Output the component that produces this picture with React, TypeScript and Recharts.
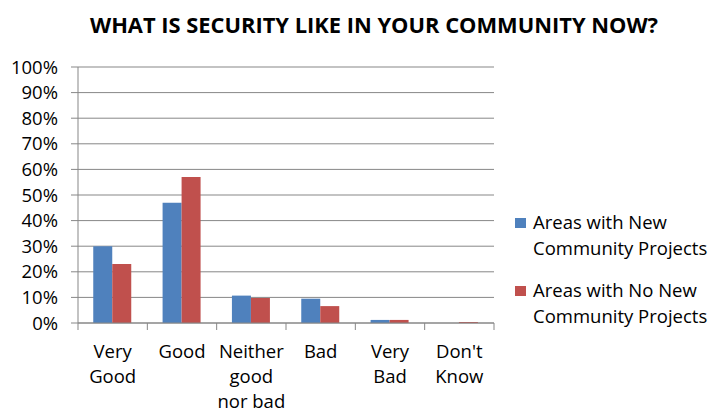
import React from "react";
import { BarChart, Bar, XAxis, YAxis, CartesianGrid, Customized } from "recharts";

const categories = ["Very Good", "Good", "Neither good nor bad", "Bad", "Very Bad", "Don't Know"];
const tickLines: string[][] = [["Very", "Good"], ["Good"], ["Neither", "good", "nor bad"], ["Bad"], ["Very", "Bad"], ["Don't", "Know"]];
const withNew = [30, 47, 10.7, 9.5, 1.2, 0];
const withoutNew = [23, 57, 9.8, 6.6, 1.2, 0.4];
const yTicks = [0, 10, 20, 30, 40, 50, 60, 70, 80, 90, 100];
const seriesNames = ["Areas with New Community Projects", "Areas with No New Community Projects"];
const legendLines = [["Areas with New", "Community Projects"], ["Areas with No New", "Community Projects"]];
const title = "WHAT IS SECURITY LIKE IN YOUR COMMUNITY NOW?";

const COLORS = ["#4F81BD", "#C0504D"];
const FONT = "'Open Sans', sans-serif";
const GRID = "#878787";
const FS = 18.5;

const data = categories.map((c, i) => ({ name: c, a: withNew[i], b: withoutNew[i] }));

const XTick = (props: any) => {
  const { x, y: ty, payload, index } = props;
  const y = ty - 8;
  const half = payload && payload.offset ? payload.offset : 34.7;
  const lines = tickLines[index] || [payload.value];
  const last = index === categories.length - 1;
  return (
    <g>
      <line x1={x - half} x2={x - half} y1={y} y2={y + 7} stroke={GRID} strokeWidth={1} />
      {last && <line x1={x + half} x2={x + half} y1={y} y2={y + 7} stroke={GRID} strokeWidth={1} />}
      {lines.map((l, k) => (
        <text key={k} x={x} y={y + 35 + k * 25} textAnchor="middle" fontFamily={FONT} fontSize={FS} fill="#000">
          {l}
        </text>
      ))}
    </g>
  );
};

const LegendBox = () => (
  <div style={{ position: "absolute", left: 515, top: 209, fontFamily: FONT, fontSize: FS, color: "#000" }}>
    {legendLines.map((ls, i) => (
      <div key={seriesNames[i]} style={{ position: "relative", paddingLeft: 18, lineHeight: "26px", marginBottom: i === 0 ? 16 : 0 }}>
        <div style={{ position: "absolute", left: 0, top: 9, width: 11, height: 10, background: COLORS[i] }} />
        {ls.map((l, k) => (
          <div key={k} style={{ whiteSpace: "nowrap" }}>{l}</div>
        ))}
      </div>
    ))}
  </div>
);

const Title = () => (
  <text x={374} y={33} textAnchor="middle" fontFamily={FONT} fontWeight="bold" fontSize={22} fill="#000" textLength={568} lengthAdjust="spacingAndGlyphs">
    {title}
  </text>
);

export default function App() {
  return (
    <div style={{ position: "absolute", left: 0, top: 0, width: 716, height: 413, background: "#fff" }}>
      <BarChart width={716} height={413} data={data} margin={{ top: 67, right: 222, bottom: 0, left: 8 }} barCategoryGap="22%" barGap={0}>
        <Customized component={Title} />
        <CartesianGrid vertical={false} stroke={GRID} strokeWidth={1} />
        <XAxis dataKey="name" interval={0} height={90} stroke={GRID} tickLine={false} tick={<XTick />} />
        <YAxis
          domain={[0, 100]}
          ticks={yTicks}
          interval={0}
          width={70}
          stroke={GRID}
          tickSize={7}
          tickMargin={13}
          tickFormatter={(v: number) => `${v}%`}
          tick={{ fontFamily: FONT, fontSize: FS, fill: "#000" }}
        />
        <Bar dataKey="a" name={seriesNames[0]} fill={COLORS[0]} isAnimationActive={false} />
        <Bar dataKey="b" name={seriesNames[1]} fill={COLORS[1]} isAnimationActive={false} />
      </BarChart>
      <LegendBox />
    </div>
  );
}
